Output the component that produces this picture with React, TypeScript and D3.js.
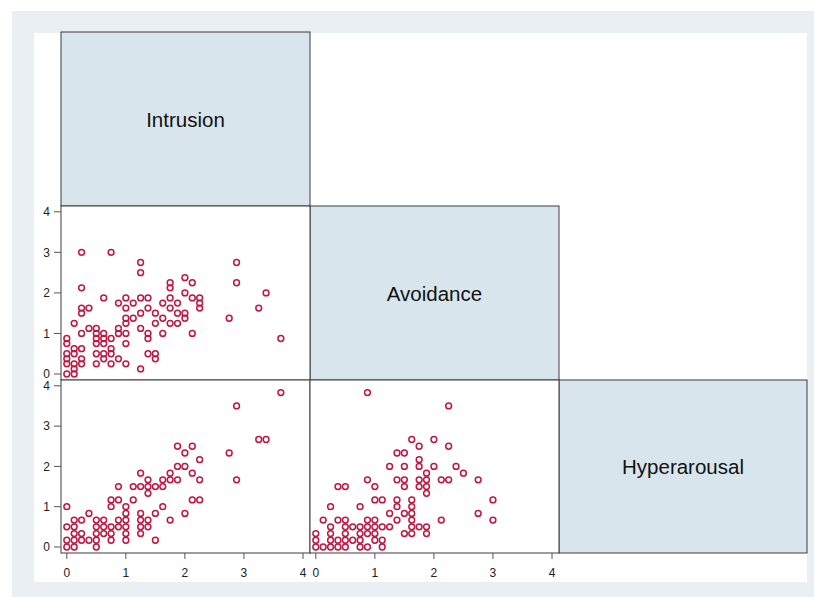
import React from "react";
import * as d3 from "d3";

const variables = ["Intrusion", "Avoidance", "Hyperarousal"];
const tickValues = [0, 1, 2, 3, 4];

// Intrusion (x) vs Avoidance (y)
const intrusionAvoidance: [number, number][] = [
  [0, 0], [0, 0.25], [0, 0.375], [0, 0.5], [0, 0.75], [0, 0.875],
  [0.125, 0], [0.125, 0.125], [0.125, 0.25], [0.125, 0.5], [0.125, 0.625], [0.125, 1.25],
  [0.25, 0.25], [0.25, 0.375], [0.25, 0.625], [0.25, 1], [0.25, 1.5], [0.25, 1.625], [0.25, 2.125], [0.25, 3],
  [0.375, 1.125], [0.375, 1.625],
  [0.5, 0.25], [0.5, 0.5], [0.5, 0.75], [0.5, 0.875], [0.5, 1], [0.5, 1.125],
  [0.625, 0.375], [0.625, 0.5], [0.625, 0.75], [0.625, 0.875], [0.625, 1], [0.625, 1.875],
  [0.75, 0.25], [0.75, 0.5], [0.75, 0.625], [0.75, 0.875], [0.75, 3],
  [0.875, 0.375], [0.875, 1], [0.875, 1.125], [0.875, 1.75],
  [1, 0.25], [1, 0.75], [1, 1], [1, 1.25], [1, 1.375], [1, 1.625], [1, 1.875],
  [1.125, 1.375], [1.125, 1.75],
  [1.25, 0.125], [1.25, 1.125], [1.25, 1.5], [1.25, 1.875], [1.25, 2.5], [1.25, 2.75],
  [1.375, 0.5], [1.375, 0.875], [1.375, 1], [1.375, 1.625], [1.375, 1.875],
  [1.5, 0.375], [1.5, 0.5], [1.5, 1.25], [1.5, 1.5],
  [1.625, 1], [1.625, 1.375], [1.625, 1.75],
  [1.75, 1.25], [1.75, 1.625], [1.75, 1.875], [1.75, 2.125], [1.75, 2.25],
  [1.875, 1.25], [1.875, 1.5], [1.875, 1.75],
  [2, 1.375], [2, 1.5], [2, 2], [2, 2.375],
  [2.125, 1], [2.125, 1.875], [2.125, 2.25],
  [2.25, 1.625], [2.25, 1.75], [2.25, 1.875],
  [2.75, 1.375], [2.875, 2.25], [2.875, 2.75], [3.25, 1.625], [3.375, 2], [3.625, 0.875],
];

// Intrusion (x) vs Hyperarousal (y)
const intrusionHyperarousal: [number, number][] = [
  [0, 0], [0, 0.167], [0, 0.5], [0, 1],
  [0.125, 0], [0.125, 0.167], [0.125, 0.333], [0.125, 0.5], [0.125, 0.667],
  [0.25, 0.167], [0.25, 0.333], [0.25, 0.667],
  [0.375, 0.167], [0.375, 0.833],
  [0.5, 0], [0.5, 0.167], [0.5, 0.333], [0.5, 0.5], [0.5, 0.667],
  [0.625, 0.333], [0.625, 0.5], [0.625, 0.667],
  [0.75, 0.167], [0.75, 0.333], [0.75, 0.5], [0.75, 1], [0.75, 1.167],
  [0.875, 0.5], [0.875, 0.667], [0.875, 1.167], [0.875, 1.5],
  [1, 0.167], [1, 0.333], [1, 0.5], [1, 0.667], [1, 0.833], [1, 1],
  [1.125, 1.167], [1.125, 1.5],
  [1.25, 0.333], [1.25, 0.5], [1.25, 0.667], [1.25, 0.833], [1.25, 1.5], [1.25, 1.833],
  [1.375, 0.5], [1.375, 0.667], [1.375, 1.333], [1.375, 1.5], [1.375, 1.667],
  [1.5, 0.167], [1.5, 0.833], [1.5, 1.5],
  [1.625, 1], [1.625, 1.5], [1.625, 1.667],
  [1.75, 0.667], [1.75, 1.667], [1.75, 1.833],
  [1.875, 1.667], [1.875, 2], [1.875, 2.5],
  [2, 0.833], [2, 2], [2, 2.333],
  [2.125, 1.167], [2.125, 1.833], [2.125, 2.5],
  [2.25, 1.167], [2.25, 1.667], [2.25, 2.167],
  [2.75, 2.333], [2.875, 1.667], [2.875, 3.5], [3.25, 2.667], [3.375, 2.667], [3.625, 3.833],
];

// Avoidance (x) vs Hyperarousal (y)
const avoidanceHyperarousal: [number, number][] = [
  [0, 0], [0, 0.167], [0, 0.333],
  [0.125, 0], [0.125, 0.667],
  [0.25, 0], [0.25, 0.167], [0.25, 0.333], [0.25, 0.5], [0.25, 1],
  [0.375, 0], [0.375, 0.167], [0.375, 0.667], [0.375, 1.5],
  [0.5, 0], [0.5, 0.167], [0.5, 0.333], [0.5, 0.5], [0.5, 0.667], [0.5, 1.5],
  [0.625, 0.167], [0.625, 0.5],
  [0.75, 0], [0.75, 0.167], [0.75, 0.333], [0.75, 0.5], [0.75, 1],
  [0.875, 0], [0.875, 0.333], [0.875, 0.5], [0.875, 0.667], [0.875, 1.667], [0.875, 3.833],
  [1, 0.167], [1, 0.333], [1, 0.5], [1, 0.667], [1, 1.167], [1, 1.5],
  [1.125, 0], [1.125, 0.167], [1.125, 0.5], [1.125, 1.167],
  [1.25, 0.5], [1.25, 0.833], [1.25, 2],
  [1.375, 0.667], [1.375, 1], [1.375, 1.167], [1.375, 1.667], [1.375, 2.333],
  [1.5, 0.333], [1.5, 0.833], [1.5, 1.5], [1.5, 1.667], [1.5, 2], [1.5, 2.333],
  [1.625, 0.333], [1.625, 0.5], [1.625, 0.667], [1.625, 0.833], [1.625, 1], [1.625, 1.167], [1.625, 2.667],
  [1.75, 0.5], [1.75, 1.5], [1.75, 1.667], [1.75, 2], [1.75, 2.167], [1.75, 2.5],
  [1.875, 0.333], [1.875, 0.5], [1.875, 1.333], [1.875, 1.5], [1.875, 1.667], [1.875, 1.833],
  [2, 2], [2, 2.667],
  [2.125, 0.667], [2.125, 1.667],
  [2.25, 1.667], [2.25, 2.5], [2.25, 3.5],
  [2.375, 2], [2.5, 1.833],
  [2.75, 0.833], [2.75, 1.667],
  [3, 0.667], [3, 1.167],
];

const panels = [
  { row: 1, col: 0, data: intrusionAvoidance },
  { row: 2, col: 0, data: intrusionHyperarousal },
  { row: 2, col: 1, data: avoidanceHyperarousal },
];

const W = 814;
const H = 597;
const colEdges = [61, 310, 559, 807];
const rowEdges = [32, 206, 380, 553];
const FONT = "'Liberation Sans', Arial, Helvetica, sans-serif";
const MARKER = "#c0163f";
const FRAME = "#3c3c3c";

function xScale(col: number) {
  const l = colEdges[col];
  return d3.scaleLinear().domain([0, 4]).range([l + 5.8, l + 242]);
}
function yScale(row: number) {
  const t = rowEdges[row];
  const b = rowEdges[row + 1];
  return d3.scaleLinear().domain([0, 4]).range([b - 6, t + 5.8]);
}

export default function App() {
  return (
    <svg
      width={W}
      height={H}
      style={{ position: "absolute", left: 0, top: 0, display: "block" }}
      fontFamily={FONT}
    >
      <rect x={0} y={0} width={W} height={H} fill="#ffffff" />
      <rect x={12} y={11} width={W - 12} height={H - 11} fill="#e9eff2" />
      <rect x={34} y={33} width={773} height={549} fill="#ffffff" />

      {/* diagonal label panels */}
      {variables.map((v, i) => (
        <g key={v}>
          <rect
            x={colEdges[i]}
            y={rowEdges[i]}
            width={colEdges[i + 1] - colEdges[i]}
            height={rowEdges[i + 1] - rowEdges[i]}
            fill="#d9e5ec"
            stroke={FRAME}
            strokeWidth={1}
          />
          <text
            x={(colEdges[i] + colEdges[i + 1]) / 2}
            y={(rowEdges[i] + rowEdges[i + 1]) / 2}
            textAnchor="middle"
            dominantBaseline="central"
            fontSize={20.5}
            fill="#111"
          >
            {v}
          </text>
        </g>
      ))}

      {/* scatter panels */}
      {panels.map((p, k) => {
        const xs = xScale(p.col);
        const ys = yScale(p.row);
        return (
          <g key={k}>
            <rect
              x={colEdges[p.col]}
              y={rowEdges[p.row]}
              width={colEdges[p.col + 1] - colEdges[p.col]}
              height={rowEdges[p.row + 1] - rowEdges[p.row]}
              fill="#ffffff"
              stroke={FRAME}
              strokeWidth={1}
            />
            {p.data.map((d, j) => (
              <circle
                key={j}
                cx={xs(d[0])}
                cy={ys(d[1])}
                r={2.9}
                fill="none"
                stroke={MARKER}
                strokeWidth={1.5}
              />
            ))}
          </g>
        );
      })}

      {/* y axes on left for rows 1 and 2 */}
      {[1, 2].map((row) => {
        const ys = yScale(row);
        const x0 = colEdges[0];
        return (
          <g key={"y" + row}>
            {tickValues.map((t) => (
              <g key={t}>
                <line x1={x0 - 7} x2={x0} y1={ys(t)} y2={ys(t)} stroke="#555" strokeWidth={1} />
                <text
                  x={x0 - 11}
                  y={ys(t) + 4.3}
                  textAnchor="end"
                  fontSize={12}
                  fill="#222"
                >
                  {t}
                </text>
              </g>
            ))}
          </g>
        );
      })}

      {/* x axes at bottom for columns 0 and 1 */}
      {[0, 1].map((col) => {
        const xs = xScale(col);
        const y0 = rowEdges[3];
        return (
          <g key={"x" + col}>
            {tickValues.map((t) => (
              <g key={t}>
                <line x1={xs(t)} x2={xs(t)} y1={y0} y2={y0 + 6} stroke="#555" strokeWidth={1} />
                <text
                  x={xs(t)}
                  y={y0 + 24}
                  textAnchor="middle"
                  fontSize={12}
                  fill="#222"
                >
                  {t}
                </text>
              </g>
            ))}
          </g>
        );
      })}
    </svg>
  );
}
